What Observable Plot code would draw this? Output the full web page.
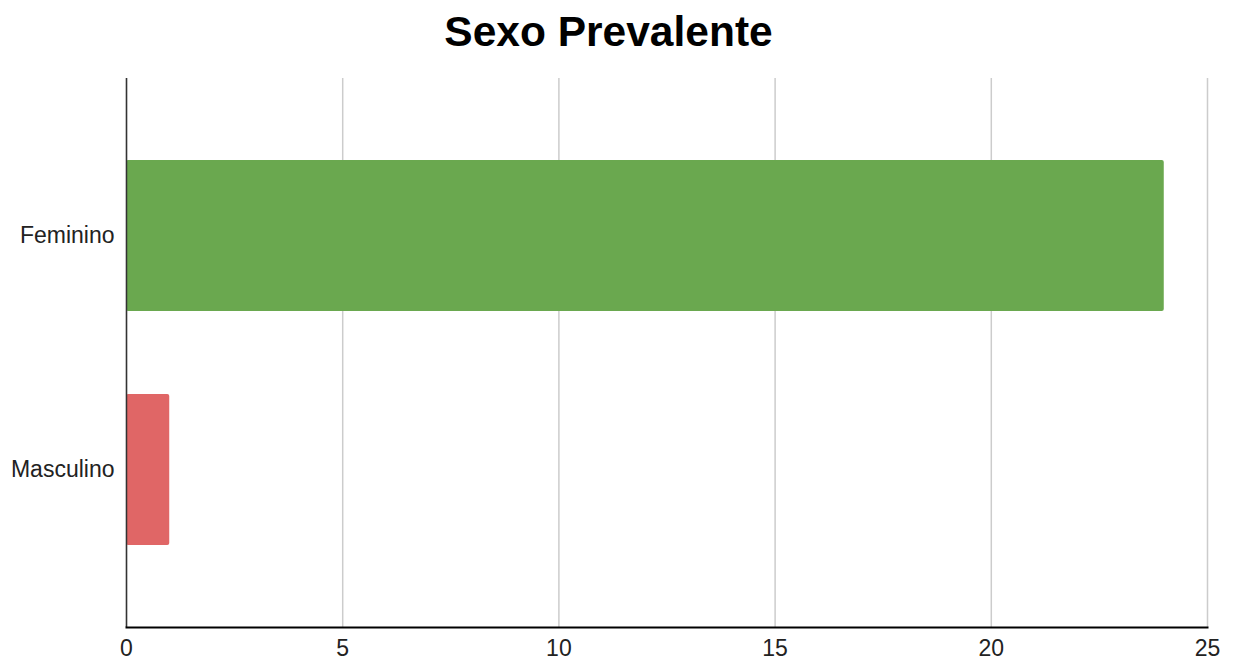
<!DOCTYPE html>
<html>
<head>
<meta charset="utf-8">
<script src="https://cdn.jsdelivr.net/npm/d3@7"></script>
<script src="https://cdn.jsdelivr.net/npm/@observablehq/plot@0.6"></script>
<style>
  body { margin: 0; background: #fff; font-family: "Liberation Sans", Arial, sans-serif; }
  #title { height: 70px; line-height: 64px; text-align: center; font-size: 42.5px; font-weight: bold; color: #000; padding-right: 18px; }
</style>
</head>
<body>
<div id="title">Sexo Prevalente</div>
<div id="chart"></div>
<script>
const categories = ["Feminino", "Masculino"];
const values = [24, 1];
const colors = ["#6aa84f", "#e06666"];
const xTicks = [0, 5, 10, 15, 20, 25];

const data = categories.map((c, i) => ({sexo: c, valor: values[i], cor: colors[i]}));

const chart = Plot.plot({
  width: 1235,
  height: 596,
  marginTop: 8,
  marginBottom: 39,
  marginLeft: 126,
  marginRight: 28,
  style: {fontFamily: "Liberation Sans, Arial, sans-serif", fontSize: "23px", color: "#222", background: "#fff"},
  x: {domain: [0, 25], ticks: xTicks, label: null},
  y: {domain: categories, paddingInner: 0.355, paddingOuter: 0.35, label: null},
  marks: [
    Plot.gridX(xTicks, {stroke: "#cccccc", strokeOpacity: 1, strokeWidth: 1.5}),
    Plot.barX(data, {x: "valor", y: "sexo", fill: "cor", rx: 2}),
    Plot.ruleX([0], {stroke: "#333", strokeWidth: 1.5}),
    Plot.frame({anchor: "bottom", stroke: "#000", strokeWidth: 2}),
    Plot.axisX({ticks: xTicks, tickSize: 0, tickPadding: 12, fontSize: 23, fill: "#222", label: null}),
    Plot.axisY({tickSize: 0, tickPadding: 12, fontSize: 23, fill: "#222", label: null})
  ]
});
document.getElementById("chart").appendChild(chart);
</script>
</body>
</html>
